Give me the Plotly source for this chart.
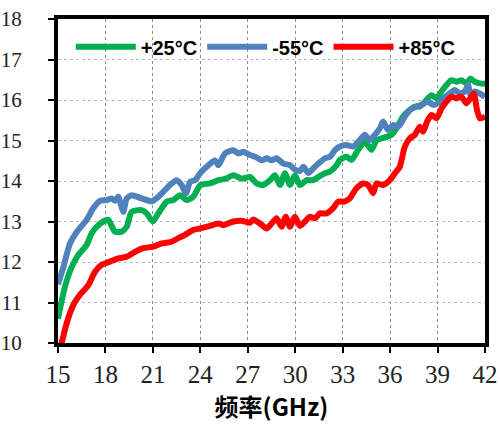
import plotly.graph_objects as go

# 频率 (GHz) and gain values for each temperature
freq_25 = [15.0, 15.44, 15.87, 16.28, 16.81, 17.13, 17.45, 17.86, 18.18, 18.6,
           19.03, 19.34, 19.66, 20.29, 20.61, 20.99, 21.34, 21.87, 22.29, 22.71,
           23.14, 23.55, 24.0, 24.61, 25.14, 25.56, 26.09, 26.61, 27.14, 27.56,
           27.98, 28.4, 28.72, 29.04, 29.35, 29.67, 29.98, 30.3, 30.72, 31.14,
           31.46, 31.88, 32.2, 32.62, 32.82, 33.24, 33.56, 33.98, 34.4, 34.82,
           35.14, 35.45, 35.77, 36.09, 36.4, 36.82, 37.24, 37.56, 37.88, 38.3,
           38.62, 38.93, 39.25, 39.56, 39.88, 40.2, 40.51, 40.83, 41.08, 41.35,
           41.67, 42.0]
gain_25 = [10.6, 11.39, 11.88, 12.17, 12.42, 12.71, 12.87, 13.0, 13.04, 12.75,
           12.75, 12.87, 13.24, 13.28, 13.2, 13.0, 13.2, 13.49, 13.53, 13.65,
           13.53, 13.61, 13.9, 13.94, 14.02, 14.05, 14.14, 14.06, 14.1, 13.94,
           13.9, 14.02, 14.14, 13.9, 14.19, 13.9, 14.14, 13.9, 14.02, 14.02,
           14.1, 14.19, 14.23, 14.39, 14.52, 14.6, 14.52, 14.77, 14.97, 14.77,
           15.01, 15.05, 15.09, 15.14, 15.3, 15.59, 15.75, 15.84, 15.84, 16.0,
           16.12, 16.04, 16.21, 16.37, 16.49, 16.45, 16.49, 16.41, 16.53, 16.45,
           16.41, 16.4]

freq_m55 = [15.0, 15.34, 15.76, 16.28, 16.81, 17.23, 17.66, 18.08, 18.4, 18.6,
            18.81, 19.13, 19.34, 19.66, 20.29, 20.92, 21.34, 21.77, 22.08, 22.5,
            22.82, 23.09, 23.35, 23.66, 24.0, 24.4, 24.93, 25.14, 25.56, 26.09,
            26.4, 26.72, 27.14, 27.46, 27.88, 28.19, 28.51, 28.82, 29.25, 29.67,
            29.98, 30.3, 30.51, 30.83, 31.14, 31.46, 31.88, 32.2, 32.51, 32.82,
            33.24, 33.66, 34.08, 34.4, 34.72, 35.03, 35.35, 35.56, 35.87, 36.19,
            36.51, 36.93, 37.24, 37.67, 37.98, 38.4, 38.72, 39.03, 39.35, 39.77,
            40.09, 40.41, 40.72, 40.93, 41.08, 41.35, 41.67, 42.0]
gain_m55 = [11.45, 11.88, 12.46, 12.79, 13.04, 13.33, 13.51, 13.53, 13.57, 13.51,
            13.61, 13.24, 13.57, 13.65, 13.57, 13.5, 13.61, 13.78, 13.9, 14.02,
            13.9, 13.69, 13.98, 14.02, 14.2, 14.35, 14.51, 14.39, 14.68, 14.76,
            14.68, 14.72, 14.64, 14.6, 14.51, 14.56, 14.51, 14.56, 14.43, 14.39,
            14.28, 14.25, 14.35, 14.2, 14.31, 14.43, 14.56, 14.6, 14.76, 14.85,
            14.89, 14.85, 15.01, 15.14, 15.01, 15.14, 15.3, 15.47, 15.26, 15.38,
            15.34, 15.59, 15.75, 15.84, 15.88, 15.96, 15.88, 15.92, 16.04, 16.16,
            16.25, 16.16, 16.21, 16.37, 16.12, 16.21, 16.16, 16.08]

freq_85 = [15.0, 15.23, 15.55, 15.97, 16.39, 16.92, 17.34, 17.76, 18.29, 18.81,
           19.34, 19.87, 20.39, 21.03, 21.56, 22.19, 22.61, 23.03, 23.55, 24.0,
           24.61, 25.14, 25.45, 26.09, 26.61, 27.14, 27.35, 27.77, 28.19, 28.51,
           28.82, 29.14, 29.4, 29.67, 29.98, 30.3, 30.62, 30.93, 31.25, 31.56,
           31.98, 32.4, 32.72, 33.1, 33.45, 33.87, 34.3, 34.61, 34.93, 35.14,
           35.56, 35.98, 36.3, 36.61, 36.93, 37.24, 37.56, 37.88, 38.09, 38.34,
           38.62, 38.93, 39.25, 39.56, 39.88, 40.2, 40.51, 40.83, 41.14, 41.29,
           41.5, 41.67, 42.0]
gain_85 = [9.65, 10.0, 10.49, 10.94, 11.19, 11.43, 11.76, 11.93, 12.01, 12.09,
           12.13, 12.25, 12.34, 12.38, 12.46, 12.5, 12.59, 12.67, 12.79, 12.83,
           12.89, 12.95, 12.91, 13.0, 13.02, 12.97, 13.05, 12.95, 12.83, 12.95,
           13.08, 12.87, 13.12, 12.87, 13.12, 12.89, 13.0, 13.12, 13.08, 13.2,
           13.2, 13.33, 13.49, 13.49, 13.57, 13.82, 13.94, 13.9, 13.7, 13.94,
           13.9, 14.02, 14.19, 14.35, 14.85, 15.05, 15.14, 15.34, 15.22, 15.47,
           15.63, 15.55, 15.79, 15.96, 16.08, 16.04, 16.08, 15.92, 16.08, 16.16,
           15.75, 15.55, 15.59]

series_names = ["+25°C", "-55°C", "+85°C"]
series_colors = ["#00B050", "#4F81BD", "#FF0000"]
x_ticks = [15, 18, 21, 24, 27, 30, 33, 36, 39, 42]
y_ticks = [10, 11, 12, 13, 14, 15, 16, 17, 18]

SERIF = "Liberation Serif, Times New Roman, DejaVu Serif, serif"

fig = go.Figure()
for name, color, xs, ys in zip(series_names, series_colors,
                               [freq_25, freq_m55, freq_85],
                               [gain_25, gain_m55, gain_85]):
    fig.add_trace(go.Scatter(x=xs, y=ys, name=name, mode="lines",
                             line=dict(color=color, width=6, shape="spline", smoothing=0.6)))

axis_common = dict(showline=True, linecolor="black", linewidth=4, mirror=True,
                   showgrid=True, griddash="dot", gridwidth=1.2,
                   ticks="outside", tickcolor="black", ticklen=6, tickwidth=1.5,
                   zeroline=False, automargin=False)

fig.update_layout(
    width=500, height=424,
    margin=dict(l=58, r=15, t=19, b=81),
    paper_bgcolor="white", plot_bgcolor="white",
    xaxis=dict(range=[15, 42], tickvals=x_ticks, ticklabelstandoff=0,
               gridcolor="#8C8C8C",
               tickfont=dict(family=SERIF, size=25, color="#222"),
               title=dict(text="频率(GHz)", standoff=12,
                          font=dict(family="Noto Sans CJK SC", size=24, color="black", weight="bold")),
               **axis_common),
    yaxis=dict(range=[10, 18], tickvals=y_ticks, ticklabelstandoff=22,
               gridcolor="#B8B8B8",
               tickfont=dict(family=SERIF, size=21, color="#222"),
               **axis_common),
    legend=dict(orientation="h", x=0.03, y=0.914, xanchor="left", yanchor="middle",
                itemwidth=60, bgcolor="rgba(0,0,0,0)",
                font=dict(family="Liberation Sans", size=20, color="black", weight="bold")),
)

fig.write_html("out.html", config={"displayModeBar": False},
               post_script="document.body.style.margin='0';")
